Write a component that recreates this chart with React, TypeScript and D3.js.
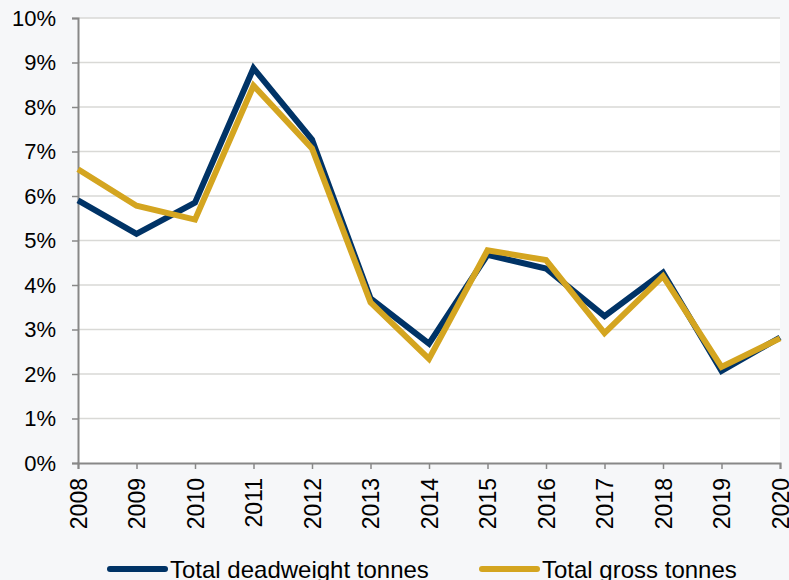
import React, { useEffect, useRef } from 'react';
import * as d3 from 'd3';

// Year-on-year growth (%)
const years = [2008, 2009, 2010, 2011, 2012, 2013, 2014, 2015, 2016, 2017, 2018, 2019, 2020];
const deadweight = [5.9, 5.15, 5.85, 8.87, 7.27, 3.7, 2.68, 4.68, 4.37, 3.3, 4.28, 2.07, 2.82];
const gross = [6.6, 5.78, 5.47, 8.48, 7.07, 3.61, 2.34, 4.78, 4.56, 2.92, 4.2, 2.16, 2.8];
const yTicks = [0, 1, 2, 3, 4, 5, 6, 7, 8, 9, 10];

const series = [
  { name: 'Total deadweight tonnes', values: deadweight, color: '#003366' },
  { name: 'Total gross tonnes', values: gross, color: '#d4a520' },
];

export default function App() {
  const svgRef = useRef<SVGSVGElement>(null);

  useEffect(() => {
    const width = 789;
    const height = 580;
    const margin = { top: 18, right: 9, bottom: 117, left: 78 };
    const innerWidth = width - margin.left - margin.right;
    const innerHeight = height - margin.top - margin.bottom;

    const svg = d3.select(svgRef.current);
    svg.selectAll('*').remove();

    // faint page background, white plot area
    svg.append('rect')
      .attr('width', width)
      .attr('height', height)
      .attr('fill', '#f6f7f9');

    const g = svg.append('g')
      .attr('transform', `translate(${margin.left},${margin.top})`);

    g.append('rect')
      .attr('width', innerWidth)
      .attr('height', innerHeight)
      .attr('fill', '#ffffff');

    const x = d3.scaleLinear()
      .domain([years[0], years[years.length - 1]])
      .range([0, innerWidth]);

    const y = d3.scaleLinear()
      .domain([0, 10])
      .range([innerHeight, 0]);

    // gridlines
    g.selectAll('.grid')
      .data(yTicks.filter(d => d > 0))
      .enter()
      .append('line')
      .attr('x1', 0)
      .attr('x2', innerWidth)
      .attr('y1', d => y(d))
      .attr('y2', d => y(d))
      .attr('stroke', '#d9d9d6')
      .attr('stroke-width', 1.5);

    // y axis
    const yAxis = g.append('g')
      .call(d3.axisLeft(y).tickValues(yTicks).tickSize(6).tickPadding(16).tickFormat(d => `${d}%`));
    yAxis.select('.domain').attr('stroke', '#888').attr('stroke-width', 2);
    yAxis.selectAll('.tick line').attr('stroke', '#888').attr('stroke-width', 1.5);
    yAxis.selectAll('text')
      .attr('font-family', 'Liberation Sans, Arial, sans-serif')
      .attr('font-size', '22px')
      .attr('fill', '#000');

    // x axis
    const xAxis = g.append('g')
      .attr('transform', `translate(0,${innerHeight})`)
      .call(d3.axisBottom(x).tickValues(years).tickSize(6).tickFormat(d => `${d}`));
    xAxis.select('.domain').attr('stroke', '#888').attr('stroke-width', 2);
    xAxis.selectAll('.tick line').attr('stroke', '#888').attr('stroke-width', 1.5);
    xAxis.selectAll('text')
      .attr('font-family', 'Liberation Sans, Arial, sans-serif')
      .attr('font-size', '23px')
      .attr('fill', '#000')
      .attr('transform', 'rotate(-90)')
      .attr('text-anchor', 'end')
      .attr('x', -15)
      .attr('y', 0)
      .attr('dy', '0.35em');

    // lines
    const line = d3.line<number>()
      .x((_, i) => x(years[i]))
      .y(d => y(d));

    series.forEach(s => {
      g.append('path')
        .datum(s.values)
        .attr('fill', 'none')
        .attr('stroke', s.color)
        .attr('stroke-width', 6)
        .attr('stroke-linejoin', 'miter')
        .attr('d', line);
    });

    // legend
    const legendX = [110, 482];
    const legend = svg.append('g');
    series.forEach((s, i) => {
      legend.append('line')
        .attr('x1', legendX[i])
        .attr('x2', legendX[i] + 55)
        .attr('y1', 569)
        .attr('y2', 569)
        .attr('stroke', s.color)
        .attr('stroke-width', 6)
        .attr('stroke-linecap', 'round');
      legend.append('text')
        .attr('x', legendX[i] + 60)
        .attr('y', 578)
        .attr('font-family', 'Liberation Sans, Arial, sans-serif')
        .attr('font-size', '24px')
        .attr('fill', '#000')
        .text(s.name);
    });
  }, []);

  return (
    <svg
      ref={svgRef}
      width={789}
      height={580}
      style={{ position: 'absolute', left: 0, top: 0, display: 'block' }}
    />
  );
}
